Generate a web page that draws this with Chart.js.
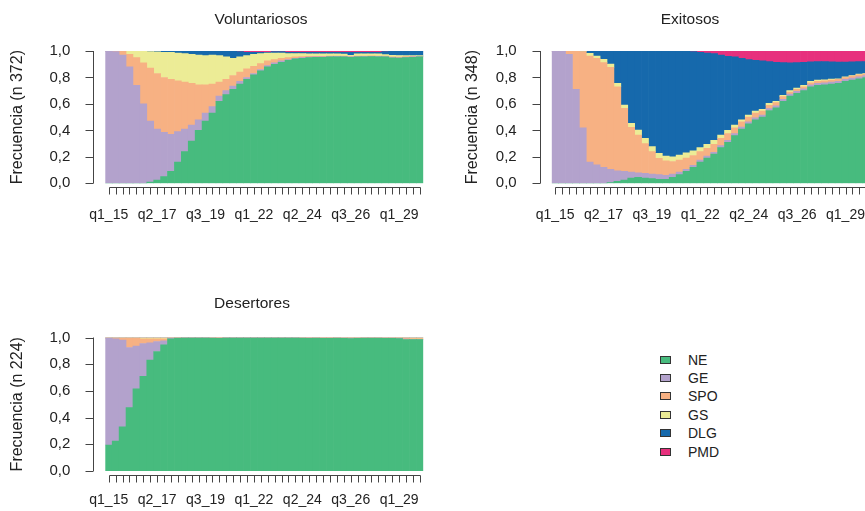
<!DOCTYPE html>
<html>
<head>
<meta charset="utf-8">
<script src="https://cdn.jsdelivr.net/npm/chart.js@4.4.1/dist/chart.umd.min.js"></script>
<style>
  body { margin: 0; background: #fff; overflow: hidden; width: 865px; height: 511px; position: relative;
         font-family: "Liberation Sans", Arial, sans-serif; color: #222; }
  canvas { position: absolute; }
  #legend { position: absolute; left: 660px; top: 350.5px; font-size: 14px; }
  .item { position: absolute; left: 0; height: 18px; line-height: 18px; white-space: nowrap; }
  .box { position: absolute; left: 0; top: 5px; width: 9px; height: 6px; border: 1px solid #333; }
  .txt { position: absolute; left: 28px; }
</style>
</head>
<body>
<canvas id="c1" width="432" height="240" style="left:0;top:0"></canvas>
<canvas id="c2" width="440" height="240" style="left:430px;top:0"></canvas>
<canvas id="c3" width="432" height="231" style="left:0;top:290px"></canvas>
<div id="legend"></div>
<script>
// states and colours
var states = ['NE', 'GE', 'SPO', 'GS', 'DLG', 'PMD'];
var colors = ['#47BB7E', '#B3A2CC', '#F7B183', '#ECEC96', '#1669AC', '#E7307D'];

// x axis: 46 positions, a label every 7th
var tickLabels = ['q1_15', 'q2_17', 'q3_19', 'q1_22', 'q2_24', 'q3_26', 'q1_29'];
var labelEvery = 7;

// Voluntariosos (n 372)
var volNE  = [0,0,0,0,0,0,.01,.025,.05,.09,.16,.24,.32,.40,.47,.53,.62,.67,.71,.75,.785,.82,.85,.88,.90,.915,.93,.94,.945,.95,.952,.953,.955,.956,.955,.952,.955,.956,.957,.956,.955,.948,.946,.95,.953,.955];
var volGE  = [1,.995,.97,.88,.74,.60,.46,.385,.335,.28,.23,.17,.12,.08,.06,.05,.04,.03,.025,.02,.015,.01,.01,.01,.01,.01,.005,.005,.005,.004,.003,.003,.003,.003,.003,.003,.003,.003,.003,.003,.003,.003,.003,.003,.002,.002];
var volSPO = [0,.005,.03,.095,.21,.31,.40,.42,.415,.415,.385,.355,.315,.265,.215,.17,.105,.085,.08,.07,.065,.055,.045,.035,.025,.02,.015,.01,.007,.005,.004,.004,.003,.003,.003,.003,.003,.003,.003,.003,.004,.005,.005,.004,.004,.003];
var volGS  = [0,0,0,.025,.05,.088,.125,.163,.19,.205,.21,.215,.22,.225,.22,.22,.20,.17,.13,.115,.10,.09,.075,.06,.05,.04,.03,.025,.023,.02,.02,.018,.017,.016,.015,.01,.017,.016,.015,.016,.01,.012,.012,.008,.006,.005];
var volDLG = [0,0,0,0,0,.002,.005,.007,.01,.01,.015,.02,.025,.03,.035,.03,.035,.045,.055,.04,.025,.015,.01,.005,.01,.01,.01,.01,.01,.011,.011,.012,.012,.012,.014,.022,.012,.012,.012,.012,.023,.032,.034,.035,.035,.035];
var volPMD = [0,0,0,0,0,0,0,0,0,0,0,0,0,0,0,0,0,0,0,.005,.01,.01,.01,.01,.005,.005,.01,.01,.01,.01,.01,.01,.01,.01,.01,.01,.01,.01,.01,.01,.005,0,0,0,0,0];

// Exitosos (n 348)
var exiNE  = [0,0,0,0,0,0,0,0,.005,.015,.025,.04,.045,.04,.035,.03,.03,.045,.065,.09,.12,.16,.19,.22,.27,.31,.36,.41,.45,.48,.50,.55,.57,.62,.66,.68,.70,.73,.74,.745,.75,.755,.77,.78,.79,.80];
var exiGE  = [1,1,.975,.71,.42,.16,.14,.12,.10,.08,.065,.045,.035,.035,.035,.035,.03,.025,.02,.015,.015,.015,.015,.015,.015,.015,.015,.015,.015,.015,.015,.015,.015,.015,.015,.015,.015,.015,.015,.015,.015,.015,.015,.015,.015,.015];
var exiSPO = [0,0,.025,.29,.575,.802,.805,.792,.772,.635,.477,.338,.285,.225,.169,.124,.11,.095,.091,.085,.075,.065,.06,.06,.055,.05,.045,.04,.035,.035,.03,.025,.025,.02,.015,.015,.015,.015,.015,.015,.015,.015,.015,.015,.015,.01];
var exiGS  = [0,0,0,0,0,.021,.017,.025,.025,.026,.025,.03,.038,.04,.038,.038,.035,.035,.038,.04,.035,.03,.03,.03,.025,.025,.02,.015,.015,.015,.015,.015,.01,.01,.01,.01,.01,.01,.01,.008,.007,.005,.005,.005,.005,.005];
var exiDLG = [0,0,0,0,.005,.017,.038,.063,.098,.244,.408,.547,.597,.66,.723,.773,.795,.80,.786,.77,.75,.72,.69,.655,.605,.56,.515,.465,.42,.385,.365,.315,.295,.247,.21,.192,.175,.148,.14,.137,.131,.127,.112,.103,.095,.09];
var exiPMD = [0,0,0,0,0,0,0,0,0,0,0,0,0,0,0,0,0,0,0,0,.005,.01,.015,.02,.03,.04,.045,.055,.065,.07,.075,.08,.085,.088,.09,.088,.085,.082,.08,.08,.082,.083,.083,.082,.08,.08];

// Desertores (n 224)
var desNE  = [.195,.225,.33,.475,.615,.71,.83,.895,.945,.99,.996,.998,.998,.998,.998,.995,.993,.998,.998,.998,.998,.998,.998,.998,.998,.998,.998,.997,.996,.994,.995,.993,.993,.995,.994,.992,.993,.995,.996,.995,.994,.993,.992,.985,.984,.984];
var desGE  = [.80,.765,.65,.45,.32,.245,.13,.075,.03,.005,.002,.001,.001,.001,.001,.002,.002,.001,.001,.001,.001,.001,.001,.001,.001,.001,.001,.002,.002,.004,.002,.002,.002,.002,.002,.002,.002,.002,.002,.002,.002,.002,.002,.003,.003,.003];
var desSPO = [0,.005,.015,.07,.06,.035,.03,.02,.015,.003,.001,.001,.001,.001,.001,.002,.004,.001,.001,.001,.001,.001,.001,.001,.001,.001,.001,.001,.001,.001,.002,.004,.004,.002,.002,.004,.003,.002,.001,.002,.002,.003,.004,.008,.005,.005];
var desGS  = [.005,.005,.005,.005,.005,.01,.01,.01,.01,.002,.001,0,0,0,0,.001,.001,0,0,0,0,0,0,0,0,0,0,0,.001,.001,.001,.001,.001,.001,.002,.002,.002,.001,.001,.001,.002,.002,.002,.004,.008,.008];
var desDLG = [0,0,0,0,0,0,0,0,0,0,0,0,0,0,0,0,0,0,0,0,0,0,0,0,0,0,0,0,0,0,0,0,0,0,0,0,0,0,0,0,0,0,0,0,0,0];
var desPMD = [0,0,0,0,0,0,0,0,0,0,0,0,0,0,0,0,0,0,0,0,0,0,0,0,0,0,0,0,0,0,0,0,0,0,0,0,0,0,0,0,0,0,0,0,0,0];

var periods = volNE.map(function(v, i) { return i % labelEvery === 0 ? tickLabels[i / labelEvery] : ''; });

Chart.defaults.font.family = '"Liberation Sans", Arial, sans-serif';
Chart.defaults.color = '#222';

// R style axes (detached from the plot) and the panel title
var rAxes = {
  id: 'rAxes',
  afterDraw: function(chart, args, opts) {
    var ctx = chart.ctx, a = chart.chartArea, x = chart.scales.x, y = chart.scales.y;
    var n = chart.data.labels.length;
    ctx.save();
    ctx.strokeStyle = '#444';
    ctx.lineWidth = 1;
    ctx.beginPath();
    var ax = Math.round(a.left - 12) + 0.5;
    ctx.moveTo(ax, y.getPixelForValue(0));
    ctx.lineTo(ax, y.getPixelForValue(1));
    y.ticks.forEach(function(t) {
      var py = Math.round(y.getPixelForValue(t.value)) + 0.5;
      ctx.moveTo(ax - 8, py);
      ctx.lineTo(ax, py);
    });
    var ay = Math.round(a.bottom + 4) + 0.5;
    ctx.moveTo(Math.round(x.getPixelForValue(0)) + 0.5, ay);
    ctx.lineTo(Math.round(x.getPixelForValue(n - 1)) + 0.5, ay);
    for (var i = 0; i < n; i++) {
      var px = Math.round(x.getPixelForValue(i)) + 0.5;
      ctx.moveTo(px, ay);
      ctx.lineTo(px, ay + 7);
    }
    ctx.stroke();
    ctx.fillStyle = '#222';
    ctx.font = '15.5px "Liberation Sans", Arial, sans-serif';
    ctx.textAlign = 'center';
    ctx.textBaseline = 'middle';
    ctx.fillText(opts.text, opts.x, opts.y);
    ctx.restore();
  }
};

function makeChart(id, series, yTitle, o) {
  return new Chart(document.getElementById(id), {
    type: 'bar',
    data: {
      labels: periods,
      datasets: states.map(function(s, k) {
        return { label: s, data: series[k], backgroundColor: colors[k], borderWidth: 0 };
      })
    },
    options: {
      responsive: false,
      animation: false,
      devicePixelRatio: 1,
      layout: { padding: o.pad, autoPadding: false },
      datasets: { bar: { barPercentage: 1, categoryPercentage: 1 } },
      plugins: {
        legend: { display: false },
        tooltip: { enabled: false },
        rAxes: { text: o.title, x: o.tx, y: o.ty }
      },
      scales: {
        x: {
          stacked: true,
          grid: { display: false, drawTicks: true, tickLength: o.xpad },
          border: { display: false },
          ticks: { autoSkip: false, maxRotation: 0, minRotation: 0, padding: 0, font: { size: 14 } },
          afterFit: function(s) { s.height = 50; }
        },
        y: {
          stacked: true, min: 0, max: 1,
          grid: { display: false, drawTicks: false },
          border: { display: false },
          ticks: {
            stepSize: 0.2, padding: 35, font: { size: 15 },
            callback: function(v) { return v.toFixed(1).replace('.', ','); }
          },
          title: { display: true, text: yTitle, font: { size: 16 }, padding: { top: 8, bottom: 0 } },
          afterFit: function(s) { s.width = o.yw; }
        }
      }
    },
    plugins: [rAxes]
  });
}

makeChart('c1', [volNE, volGE, volSPO, volGS, volDLG, volPMD], 'Frecuencia (n 372)',
  { pad: { left: 0, top: 51, right: 8.7, bottom: 6.7 }, yw: 105.3, xpad: 23, title: 'Voluntariosos', tx: 261, ty: 20 });
makeChart('c2', [exiNE, exiGE, exiSPO, exiGS, exiDLG, exiPMD], 'Frecuencia (n 348)',
  { pad: { left: 25, top: 51, right: 0.3, bottom: 6.7 }, yw: 96.7, xpad: 23, title: 'Exitosos', tx: 260, ty: 20 });
makeChart('c3', [desNE, desGE, desSPO, desGS, desDLG, desPMD], 'Frecuencia (n 224)',
  { pad: { left: 0, top: 47.5, right: 8.7, bottom: 0 }, yw: 105.3, xpad: 21, title: 'Desertores', tx: 252, ty: 14 });

// legend
var legend = document.getElementById('legend');
states.forEach(function(s, k) {
  var row = document.createElement('div');
  row.className = 'item';
  row.style.top = (k * 18.4) + 'px';
  row.innerHTML = '<span class="box" style="background:' + colors[k] + '"></span><span class="txt">' + s + '</span>';
  legend.appendChild(row);
});
</script>
</body>
</html>
